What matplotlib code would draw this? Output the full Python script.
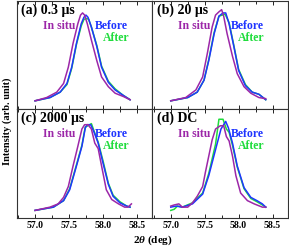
import matplotlib
matplotlib.use("Agg")
import matplotlib.pyplot as plt
from matplotlib.ticker import MultipleLocator

plt.rcParams["font.family"] = "Liberation Serif"
plt.rcParams["font.weight"] = "bold"
plt.rcParams["mathtext.fontset"] = "custom"
plt.rcParams["mathtext.it"] = "Liberation Serif:italic:bold"
plt.rcParams["mathtext.rm"] = "Liberation Serif:bold"

# panel titles
titles = ["(a) 0.3 μs", "(b) 20 μs", "(c) 2000 μs", "(d) DC"]

# (a) 0.3 us
a_insitu_x = [57.0, 57.17, 57.32, 57.42, 57.49, 57.56, 57.63, 57.67, 57.70, 57.73, 57.77, 57.83, 57.91, 57.98, 58.08, 58.18, 58.30, 58.40]
a_insitu_y = [0.08, 0.11, 0.16, 0.24, 0.39, 0.61, 0.79, 0.87, 0.89, 0.87, 0.79, 0.64, 0.45, 0.30, 0.21, 0.15, 0.12, 0.09]
a_before_x = [57.0, 57.22, 57.37, 57.47, 57.54, 57.61, 57.68, 57.72, 57.75, 57.78, 57.83, 57.91, 57.98, 58.08, 58.18, 58.30, 58.40]
a_before_y = [0.08, 0.11, 0.16, 0.24, 0.39, 0.61, 0.79, 0.85, 0.87, 0.85, 0.76, 0.58, 0.39, 0.25, 0.18, 0.13, 0.09]
a_after_x = [57.0, 57.22, 57.37, 57.47, 57.54, 57.61, 57.68, 57.72, 57.76, 57.79, 57.83, 57.91, 57.98, 58.08, 58.18, 58.30, 58.40]
a_after_y = [0.08, 0.11, 0.16, 0.23, 0.38, 0.60, 0.77, 0.83, 0.84, 0.83, 0.76, 0.59, 0.40, 0.26, 0.19, 0.13, 0.09]

# (b) 20 us
b_insitu_x = [57.0, 57.22, 57.37, 57.47, 57.54, 57.61, 57.66, 57.71, 57.75, 57.78, 57.83, 57.91, 57.98, 58.08, 58.18, 58.30, 58.40]
b_insitu_y = [0.08, 0.11, 0.18, 0.30, 0.52, 0.76, 0.87, 0.90, 0.92, 0.86, 0.70, 0.49, 0.33, 0.21, 0.15, 0.11, 0.10]
b_before_x = [57.0, 57.25, 57.39, 57.49, 57.56, 57.64, 57.71, 57.77, 57.81, 57.86, 57.93, 58.00, 58.10, 58.20, 58.30, 58.40]
b_before_y = [0.08, 0.11, 0.16, 0.27, 0.45, 0.70, 0.86, 0.89, 0.89, 0.79, 0.58, 0.36, 0.22, 0.16, 0.14, 0.09]
b_after_x = [57.0, 57.25, 57.39, 57.49, 57.56, 57.64, 57.71, 57.76, 57.80, 57.86, 57.93, 58.00, 58.10, 58.20, 58.30, 58.40]
b_after_y = [0.08, 0.11, 0.16, 0.27, 0.46, 0.71, 0.86, 0.87, 0.88, 0.80, 0.59, 0.37, 0.23, 0.16, 0.14, 0.09]

# (c) 2000 us
c_insitu_x = [57.0, 57.22, 57.34, 57.42, 57.49, 57.56, 57.63, 57.69, 57.73, 57.78, 57.83, 57.88, 57.93, 57.98, 58.05, 58.13, 58.23, 58.32, 58.37, 58.42]
c_insitu_y = [0.07, 0.10, 0.13, 0.19, 0.29, 0.48, 0.66, 0.82, 0.86, 0.86, 0.82, 0.69, 0.64, 0.48, 0.26, 0.17, 0.13, 0.10, 0.10, 0.13]
c_before_x = [57.0, 57.27, 57.42, 57.51, 57.61, 57.69, 57.74, 57.77, 57.82, 57.87, 57.93, 58.00, 58.08, 58.15, 58.25, 58.35, 58.40]
c_before_y = [0.07, 0.10, 0.16, 0.26, 0.48, 0.66, 0.83, 0.86, 0.86, 0.79, 0.69, 0.51, 0.31, 0.20, 0.14, 0.11, 0.10]
c_after_x = [57.0, 57.27, 57.42, 57.51, 57.61, 57.69, 57.74, 57.78, 57.83, 57.87, 57.93, 58.00, 58.08, 58.15, 58.25, 58.35, 58.40]
c_after_y = [0.07, 0.10, 0.16, 0.27, 0.49, 0.67, 0.84, 0.85, 0.87, 0.80, 0.70, 0.53, 0.32, 0.21, 0.15, 0.11, 0.10]

# (d) DC
d_insitu_x = [57.0, 57.05, 57.12, 57.17, 57.25, 57.32, 57.39, 57.47, 57.51, 57.56, 57.61, 57.66, 57.73, 57.78, 57.82, 57.86, 57.91, 57.96, 58.03, 58.13, 58.23, 58.35, 58.40]
d_insitu_y = [0.11, 0.12, 0.13, 0.10, 0.10, 0.14, 0.20, 0.29, 0.42, 0.57, 0.72, 0.82, 0.85, 0.85, 0.75, 0.71, 0.57, 0.39, 0.23, 0.16, 0.13, 0.10, 0.10]
d_before_x = [57.0, 57.08, 57.17, 57.32, 57.47, 57.56, 57.66, 57.74, 57.81, 57.85, 57.91, 57.98, 58.08, 58.18, 58.27, 58.35, 58.40]
d_before_y = [0.10, 0.11, 0.10, 0.13, 0.22, 0.39, 0.63, 0.82, 0.89, 0.83, 0.69, 0.48, 0.28, 0.19, 0.16, 0.13, 0.10]
d_after_x = [57.0, 57.05, 57.10, 57.17, 57.32, 57.47, 57.56, 57.66, 57.71, 57.77, 57.82, 57.86, 57.91, 57.98, 58.08, 58.18, 58.27, 58.35, 58.40]
d_after_y = [0.07, 0.08, 0.11, 0.10, 0.14, 0.23, 0.41, 0.68, 0.91, 0.91, 0.82, 0.79, 0.67, 0.47, 0.27, 0.18, 0.15, 0.12, 0.10]

series = [
    [(a_insitu_x, a_insitu_y), (a_before_x, a_before_y), (a_after_x, a_after_y)],
    [(b_insitu_x, b_insitu_y), (b_before_x, b_before_y), (b_after_x, b_after_y)],
    [(c_insitu_x, c_insitu_y), (c_before_x, c_before_y), (c_after_x, c_after_y)],
    [(d_insitu_x, d_insitu_y), (d_before_x, d_before_y), (d_after_x, d_after_y)],
]
names = ["In situ", "Before", "After"]
colors = ["#9c27a8", "#1f35ff", "#1fdc3c"]
order = [2, 1, 0]
name_pos = [(0.31, 0.77), (0.70, 0.77), (0.73, 0.66)]

fig, axes = plt.subplots(2, 2, figsize=(2.89, 2.48), dpi=100, sharex=True, sharey=True)
fig.subplots_adjust(left=0.058, right=0.997, bottom=0.121, top=0.996, wspace=0, hspace=0)

for ax, title, curves in zip(axes.flat, titles, series):
    for i in order:
        x, y = curves[i]
        ax.plot(x, y, color=colors[i], lw=1.1)
    ax.text(0.03, 0.915, title, transform=ax.transAxes, fontsize=10,
            fontweight="bold", va="center", ha="left")
    for nm, c, (px, py) in zip(names, colors, name_pos):
        ax.text(px, py, nm, transform=ax.transAxes, fontsize=8.5,
                fontweight="bold", color=c, ha="center", va="center")
    ax.set_xlim(56.73, 58.73)
    ax.set_ylim(0, 1)
    ax.set_yticks([])
    ax.xaxis.set_major_locator(MultipleLocator(0.5))
    ax.xaxis.set_minor_locator(MultipleLocator(0.25))
    ax.tick_params(axis="x", which="both", direction="in", top=True, bottom=True,
                   labelsize=7, pad=2, width=0.6)
    ax.tick_params(axis="x", which="major", length=3)
    ax.tick_params(axis="x", which="minor", length=2)
    for sp in ax.spines.values():
        sp.set_color("#333333")
        sp.set_linewidth(0.8)
    for lab in ax.get_xticklabels():
        lab.set_fontweight("bold")

fig.text(0.025, 0.51, "Intensity (arb. unit)", rotation=90, fontsize=7.5,
         fontweight="bold", ha="center", va="center")
fig.text(0.53, 0.03, r"2$\theta$ (deg)", fontsize=8, fontweight="bold",
         ha="center", va="center")

fig.savefig("out.png", dpi=100)
